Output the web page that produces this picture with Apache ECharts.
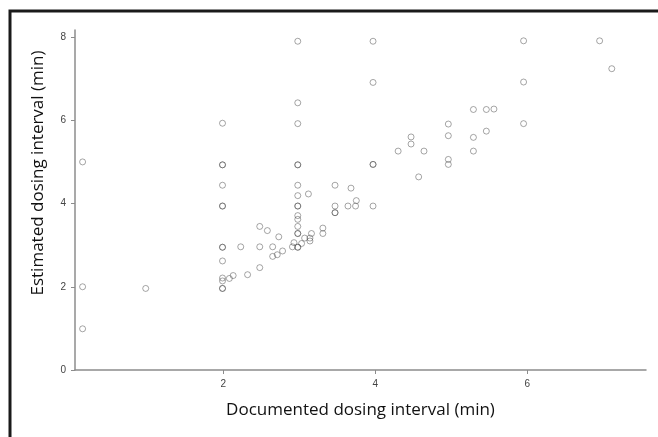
<!DOCTYPE html>
<html>
<head>
<meta charset="utf-8">
<script src="https://cdn.jsdelivr.net/npm/echarts@6/dist/echarts.min.js"></script>
<style>
html,body{margin:0;padding:0;background:#fff;}
#chart{width:658px;height:437px;}
</style>
</head>
<body>
<div id="chart"></div>
<script>
// Documented dosing interval (min)
var documented = [
  0.15, 0.15, 0.15,
  0.98,
  1.99, 1.99, 1.99, 1.99, 1.99, 1.99, 1.99, 1.99, 1.99, 1.99, 1.99, 1.99, 1.99,
  2.08, 2.13, 2.23, 2.32, 2.48, 2.48, 2.48, 2.58, 2.65, 2.65, 2.71, 2.73, 2.78, 2.91, 2.93,
  2.98, 2.98, 2.98, 2.98, 2.98, 2.98, 2.98, 2.98, 2.98, 2.98, 2.98, 2.98, 2.98, 2.98, 2.98, 2.98,
  3.03, 3.07, 3.12, 3.14, 3.14, 3.16, 3.31, 3.31,
  3.47, 3.47, 3.47, 3.47, 3.64, 3.68, 3.74, 3.75,
  3.97, 3.97, 3.97, 3.97, 3.97,
  4.30, 4.47, 4.47, 4.57, 4.64,
  4.96, 4.96, 4.96, 4.96,
  5.29, 5.46, 5.56, 5.29, 5.46, 5.29,
  5.95, 5.95, 5.95,
  6.95, 7.11
];
// Estimated dosing interval (min)
var estimated = [
  5.00, 2.00, 0.99,
  1.96,
  5.93, 4.93, 4.93, 4.44, 3.94, 3.94, 2.95, 2.95, 2.62, 2.21, 2.14, 1.96, 1.96,
  2.20, 2.27, 2.96, 2.29, 3.45, 2.96, 2.46, 3.35, 2.96, 2.73, 2.77, 3.20, 2.86, 2.96, 3.06,
  7.90, 6.42, 5.92, 4.93, 4.93, 4.44, 4.19, 3.94, 3.94, 3.71, 3.62, 3.45, 3.28, 3.28, 2.95, 2.95,
  3.04, 3.17, 4.23, 3.10, 3.17, 3.28, 3.41, 3.28,
  4.44, 3.94, 3.78, 3.78, 3.94, 4.37, 3.94, 4.07,
  7.90, 6.91, 4.94, 4.94, 3.94,
  5.26, 5.60, 5.43, 4.64, 5.26,
  5.91, 5.63, 5.06, 4.94,
  6.26, 6.26, 6.27, 5.59, 5.74, 5.26,
  7.91, 6.92, 5.92,
  7.91, 7.24
];
var xTickValues = [2, 4, 6];
var yTickValues = [0, 2, 4, 6, 8];
var xTitle = 'Documented dosing interval (min)';
var yTitle = 'Estimated dosing interval (min)';

var points = documented.map(function (d, i) { return [d, estimated[i]]; });

var chart = echarts.init(document.getElementById('chart'), null, {renderer: 'canvas'});
chart.setOption({
  animation: false,
  backgroundColor: '#ffffff',
  grid: {left: 75, right: 12, top: 30, bottom: 67, containLabel: false},
  xAxis: {
    type: 'value',
    min: 0.05,
    max: 7.56,
    splitLine: {show: false},
    axisLine: {show: true, lineStyle: {color: '#8c8c8c', width: 1.5}},
    axisTick: {show: true, length: 4, customValues: xTickValues, lineStyle: {color: '#8c8c8c'}},
    axisLabel: {show: true, customValues: xTickValues, margin: 9, color: '#444', fontSize: 10, fontFamily: 'Liberation Sans'},
    name: xTitle,
    nameLocation: 'middle',
    nameGap: 32,
    nameTextStyle: {color: '#111', fontSize: 17, fontFamily: 'Open Sans'}
  },
  yAxis: {
    type: 'value',
    min: 0,
    max: 8.17,
    splitLine: {show: false},
    axisLine: {show: true, lineStyle: {color: '#8c8c8c', width: 1.5}},
    axisTick: {show: true, length: 4, customValues: yTickValues, lineStyle: {color: '#8c8c8c'}},
    axisLabel: {show: true, customValues: yTickValues, margin: 9, color: '#444', fontSize: 10, fontFamily: 'Liberation Sans'}
  },
  graphic: [
    {
      type: 'rect',
      shape: {x: 10, y: 11, width: 720, height: 500},
      style: {fill: 'none', stroke: '#1a1a1a', lineWidth: 3},
      silent: true
    },
    {
      type: 'text',
      x: 38, y: 173,
      rotation: Math.PI / 2,
      style: {
        text: yTitle,
        fill: '#111',
        font: '17px "Open Sans"',
        textAlign: 'center',
        textVerticalAlign: 'middle'
      }
    }
  ],
  series: [{
    type: 'scatter',
    data: points,
    symbol: 'circle',
    symbolSize: 6,
    itemStyle: {color: 'rgba(255,255,255,0)', borderColor: 'rgba(70,70,70,0.6)', borderWidth: 1}
  }]
});
</script>
</body>
</html>
